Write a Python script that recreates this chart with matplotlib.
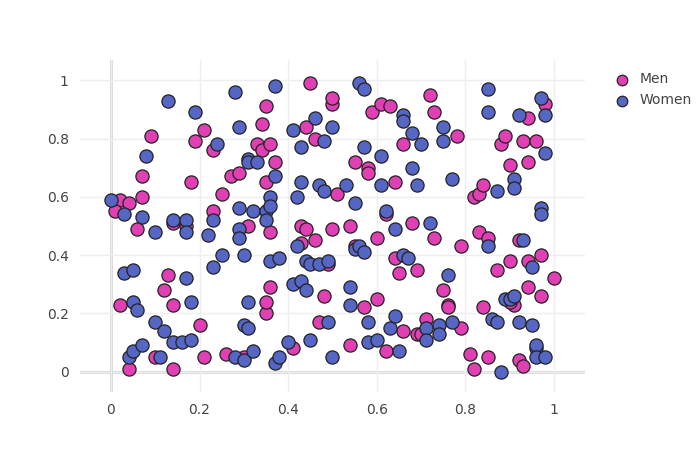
import matplotlib
matplotlib.use("Agg")
import matplotlib.pyplot as plt

men_x = [0.02,0.01,0.04,0.02,0.04,0.06,0.07,0.07,0.09,0.10,0.12,0.13,0.14,0.14,0.14,0.17,0.18,0.19,0.20,0.21,0.21,0.23,0.23,0.25,0.26,0.27,0.29,0.30,0.31,0.33,0.34,0.34,0.35,0.35,0.35,0.35,0.36,0.37,0.36,0.36,0.41,0.43,0.44,0.44,0.43,0.45,0.46,0.46,0.47,0.48,0.49,0.50,0.50,0.50,0.51,0.54,0.54,0.55,0.55,0.57,0.58,0.58,0.59,0.60,0.60,0.61,0.62,0.62,0.63,0.64,0.64,0.65,0.66,0.66,0.68,0.69,0.69,0.70,0.71,0.72,0.73,0.73,0.75,0.76,0.76,0.78,0.79,0.79,0.81,0.82,0.82,0.83,0.83,0.84,0.84,0.85,0.85,0.87,0.88,0.89,0.90,0.90,0.91,0.92,0.92,0.93,0.93,0.94,0.94,0.94,0.94,0.96,0.97,0.97,0.98,1.00,0.90]
men_y = [0.59,0.55,0.58,0.23,0.01,0.49,0.60,0.67,0.81,0.05,0.28,0.33,0.23,0.51,0.01,0.50,0.65,0.79,0.16,0.83,0.05,0.55,0.76,0.61,0.06,0.67,0.68,0.05,0.50,0.78,0.85,0.76,0.91,0.65,0.20,0.24,0.78,0.72,0.48,0.29,0.08,0.50,0.84,0.49,0.44,0.99,0.80,0.45,0.17,0.26,0.37,0.92,0.94,0.49,0.61,0.50,0.09,0.43,0.72,0.22,0.70,0.68,0.89,0.46,0.25,0.92,0.54,0.07,0.91,0.65,0.39,0.34,0.78,0.14,0.51,0.35,0.13,0.13,0.18,0.95,0.89,0.46,0.28,0.23,0.22,0.81,0.43,0.15,0.06,0.60,0.01,0.61,0.48,0.64,0.22,0.46,0.05,0.35,0.78,0.81,0.71,0.38,0.23,0.45,0.04,0.79,0.02,0.72,0.38,0.87,0.29,0.79,0.40,0.26,0.92,0.32,0.24]
women_x = [0.00,0.03,0.03,0.04,0.05,0.05,0.05,0.06,0.07,0.07,0.08,0.10,0.10,0.11,0.12,0.13,0.14,0.14,0.16,0.17,0.17,0.17,0.18,0.18,0.19,0.22,0.23,0.23,0.24,0.25,0.28,0.28,0.29,0.29,0.29,0.29,0.30,0.30,0.30,0.31,0.31,0.31,0.31,0.32,0.32,0.33,0.35,0.35,0.36,0.36,0.36,0.37,0.37,0.37,0.38,0.38,0.40,0.41,0.41,0.42,0.42,0.43,0.43,0.43,0.44,0.44,0.45,0.45,0.46,0.47,0.47,0.48,0.48,0.49,0.49,0.50,0.50,0.53,0.54,0.54,0.55,0.55,0.56,0.56,0.57,0.57,0.57,0.58,0.58,0.60,0.61,0.61,0.62,0.63,0.64,0.64,0.65,0.66,0.66,0.66,0.67,0.68,0.68,0.69,0.70,0.71,0.71,0.72,0.74,0.74,0.75,0.75,0.76,0.77,0.77,0.85,0.85,0.85,0.86,0.87,0.87,0.88,0.89,0.90,0.91,0.91,0.91,0.92,0.92,0.93,0.95,0.95,0.96,0.96,0.96,0.97,0.97,0.97,0.98,0.98,0.98]
women_y = [0.59,0.54,0.34,0.05,0.24,0.35,0.07,0.21,0.53,0.09,0.74,0.48,0.17,0.05,0.14,0.93,0.52,0.10,0.10,0.52,0.48,0.32,0.24,0.11,0.89,0.47,0.52,0.36,0.78,0.40,0.96,0.05,0.84,0.49,0.46,0.56,0.40,0.16,0.04,0.73,0.72,0.24,0.15,0.55,0.07,0.72,0.55,0.52,0.38,0.60,0.57,0.67,0.98,0.03,0.05,0.39,0.10,0.83,0.30,0.43,0.60,0.65,0.77,0.31,0.28,0.38,0.37,0.11,0.87,0.64,0.37,0.62,0.79,0.38,0.17,0.84,0.05,0.64,0.23,0.29,0.42,0.58,0.99,0.43,0.97,0.77,0.41,0.17,0.10,0.11,0.64,0.74,0.55,0.15,0.49,0.19,0.07,0.88,0.86,0.40,0.39,0.82,0.70,0.64,0.78,0.15,0.11,0.51,0.16,0.13,0.84,0.79,0.33,0.66,0.17,0.97,0.89,0.43,0.18,0.62,0.17,0.00,0.25,0.25,0.26,0.66,0.63,0.88,0.17,0.45,0.36,0.16,0.08,0.09,0.05,0.94,0.56,0.54,0.88,0.05,0.75]

fig = plt.figure(figsize=(7, 4.5), dpi=100)
ax = fig.add_axes([0.114, 0.129, 0.722, 0.738])
kw = dict(s=90, edgecolors="#222222", linewidths=0.9, zorder=3)
ax.scatter(men_x, men_y, c="#e040b4", label="Men", **kw)
ax.scatter(women_x, women_y, c="#5566c4", label="Women", **kw)
ax.set_xlim(-0.07, 1.07)
ax.set_ylim(-0.07, 1.07)
ax.set_xticks([0, 0.2, 0.4, 0.6, 0.8, 1])
ax.set_xticklabels(["0", "0.2", "0.4", "0.6", "0.8", "1"])
ax.set_yticks([0, 0.2, 0.4, 0.6, 0.8, 1])
ax.set_yticklabels(["0", "0.2", "0.4", "0.6", "0.8", "1"])
ax.grid(color="#eeeeee", linewidth=1, zorder=0)
ax.axhline(0, color="#444444", linewidth=1, zorder=1)
ax.axvline(0, color="#444444", linewidth=1, zorder=1)
for s in ax.spines.values():
    s.set_visible(False)
ax.tick_params(length=0, labelsize=10, colors="#444444", pad=8)
ax.legend(loc="upper left", bbox_to_anchor=(1.02, 1.0), frameon=False,
          fontsize=10, labelcolor="#444444", handletextpad=0.3, markerscale=0.8)
fig.savefig("out.png")
